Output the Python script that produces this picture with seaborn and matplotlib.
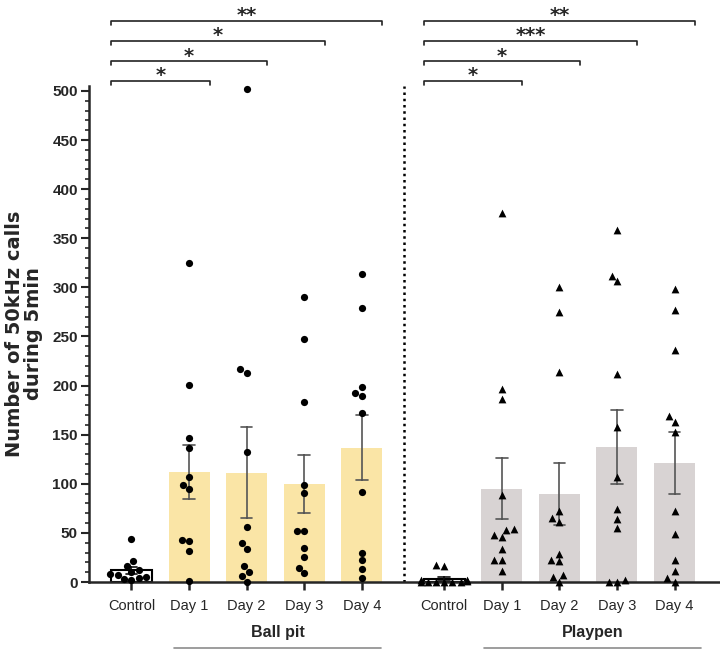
import numpy as np
import pandas as pd
import matplotlib.pyplot as plt
import seaborn as sns
from matplotlib.ticker import MultipleLocator
from matplotlib.transforms import blended_transform_factory


days = ['Control', 'Day 1', 'Day 2', 'Day 3', 'Day 4']
groups = ['Ball pit', 'Playpen']

# number of 50 kHz calls per animal
ball_ctrl = [44, 21, 16, 12, 10, 8, 7, 5, 4, 3, 2]
ball_d1 = [325, 201, 147, 136, 107, 99, 95, 43, 42, 32, 1]
ball_d2 = [502, 217, 213, 132, 56, 40, 34, 16, 10, 6, 0]
ball_d3 = [290, 247, 183, 99, 91, 52, 52, 35, 25, 14, 9]
ball_d4 = [314, 279, 199, 192, 189, 172, 92, 30, 22, 13, 4]

play_ctrl = [17, 16, 2, 2, 1, 0, 0, 0, 0, 0, 0]
play_d1 = [376, 196, 186, 89, 54, 53, 48, 46, 34, 22, 22, 11]
play_d2 = [300, 275, 214, 72, 65, 61, 29, 22, 21, 7, 5, 0]
play_d3 = [358, 312, 306, 212, 158, 107, 74, 64, 55, 2, 0, 0]
play_d4 = [298, 277, 236, 169, 163, 153, 72, 49, 22, 11, 4, 0]

ball_sig = ['*', '*', '*', '**']
play_sig = ['*', '*', '***', '**']

# layout
x_left = [0, 1, 2, 3, 4]
x_right = [5.43, 6.43, 7.43, 8.43, 9.43]
bar_w = 0.71
yellow = '#FAE5A6'
grey = '#D8D3D3'


def long_table(x_pos, series, group):
    rows = []
    for x, day, vals in zip(x_pos, days, series):
        for v in vals:
            rows.append({'x': x, 'calls': v, 'day': day, 'group': group})
    return pd.DataFrame(rows)


def draw_bars(ax, df, fill):
    for x, sub in df.groupby('x'):
        control = sub['day'].iloc[0] == 'Control'
        sns.barplot(data=sub, x='x', y='calls', native_scale=True, ax=ax,
                    width=bar_w, errorbar='se', capsize=0.2,
                    color='white' if control else fill,
                    saturation=1,
                    edgecolor='black' if control else 'none',
                    linewidth=1.5 if control else 0,
                    err_kws={'color': '#111111' if control else '#555555',
                             'linewidth': 1.2})


def draw_brackets(ax, x_pos, stars):
    levels = [510, 530, 551, 571]
    x0 = x_pos[0] - bar_w / 2
    for i, (lvl, s) in enumerate(zip(levels, stars)):
        x1 = x_pos[i + 1] + bar_w / 2
        ax.plot([x0, x0, x1, x1], [lvl - 4, lvl, lvl, lvl - 4],
                color='#222222', lw=1.2, clip_on=False)
        ax.text((x0 + x1) / 2, lvl + 5.5, s, ha='center', va='center',
                fontsize=14, fontweight='bold', family='DejaVu Sans',
                clip_on=False)


def main():
    sns.set_style('ticks')
    plt.rcParams['font.family'] = ['Liberation Sans', 'DejaVu Sans']

    left = long_table(x_left, [ball_ctrl, ball_d1, ball_d2, ball_d3, ball_d4], groups[0])
    right = long_table(x_right, [play_ctrl, play_d1, play_d2, play_d3, play_d4], groups[1])

    fig = plt.figure(figsize=(7.2, 6.53), dpi=100)
    ax = fig.add_axes([89 / 720, 1 - 582 / 653, 631 / 720, 496 / 653])

    draw_bars(ax, left, yellow)
    draw_bars(ax, right, grey)

    sns.swarmplot(data=left, x='x', y='calls', native_scale=True, ax=ax,
                  color='black', marker='o', size=5.2, zorder=3)
    sns.swarmplot(data=right, x='x', y='calls', native_scale=True, ax=ax,
                  color='black', marker='^', size=5.6, zorder=3)
    for coll in ax.collections:
        coll.set_clip_on(False)

    # dotted divider between the two contexts
    ax.plot([4.73, 4.73], [0, 505], color='black', lw=1.8,
            linestyle=(0, (1, 1.5)), clip_on=False)

    draw_brackets(ax, x_left, ball_sig)
    draw_brackets(ax, x_right, play_sig)

    ax.set_xlim(-0.738, 10.22)
    ax.set_ylim(0, 505)
    ax.set_yticks(np.arange(0, 501, 50))
    ax.yaxis.set_minor_locator(MultipleLocator(10))
    ax.set_xticks(x_left + x_right, labels=days * 2)
    ax.set_xlabel('')
    sns.despine(ax=ax)
    for side in ['left', 'bottom']:
        ax.spines[side].set_linewidth(1.8)

    ax.tick_params(axis='y', which='major', length=6, width=1.5, labelsize=11, pad=2)
    ax.tick_params(axis='y', which='minor', length=3, width=1.2)
    ax.tick_params(axis='x', which='major', length=6, width=1.8, labelsize=10.5, pad=6)
    for lab in ax.get_yticklabels():
        lab.set_fontweight('bold')

    ax.set_ylabel('Number of 50kHz calls\nduring 5min', fontsize=14,
                  fontweight='bold', family='DejaVu Sans', linespacing=0.95)
    ax.yaxis.label.set_va('center')
    ax.yaxis.set_label_coords(-0.103, 0.5)

    # group labels with an underline below the day columns
    trans = blended_transform_factory(ax.transData, fig.transFigure)
    for name, (a, b) in zip(groups, [(0.74, 4.33), (6.12, 9.89)]):
        ax.text((a + b) / 2, 1 - 633 / 653, name, transform=trans,
                ha='center', va='center', fontsize=11.5, fontweight='bold')
        ax.plot([a, b], [1 - 648 / 653] * 2, transform=trans,
                color='#8C8C8C', lw=1.2, clip_on=False)

    plt.savefig('out.png', dpi=100)


if __name__ == '__main__':
    main()
